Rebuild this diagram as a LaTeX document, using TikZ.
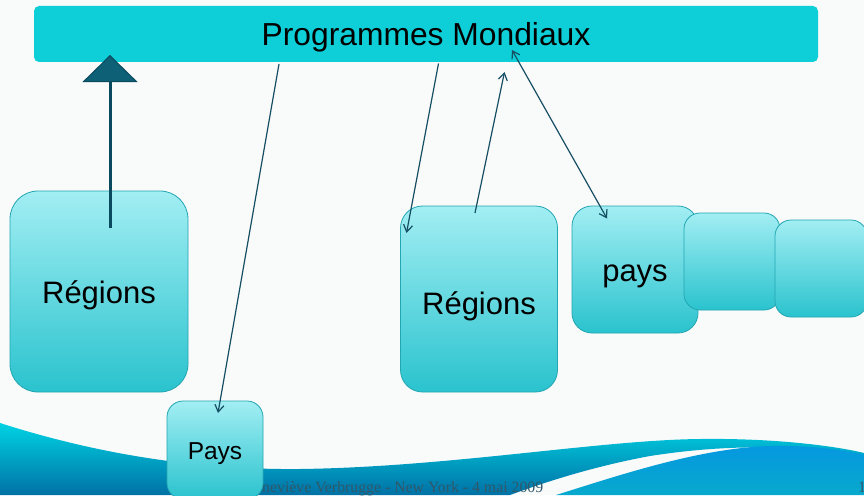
\documentclass[tikz,border=0pt]{standalone}
\usepackage{fontspec}
\setmainfont{Liberation Sans}
\newfontfamily\footerfont{Liberation Serif}
\usetikzlibrary{arrows.meta}
\definecolor{paper}{HTML}{F9FAFA}
\definecolor{banner}{HTML}{0ECFD8}
\definecolor{boxtop}{HTML}{A2EEF3}
\definecolor{boxbottom}{HTML}{2AC3CE}
\definecolor{boxline}{HTML}{22A6B2}
\definecolor{linkline}{HTML}{164F63}
\definecolor{bigline}{HTML}{0A4A5E}
\definecolor{bighead}{HTML}{0E6077}
\definecolor{wavetop}{HTML}{00D3E3}
\definecolor{wavebottom}{HTML}{0071A5}
\definecolor{wavetwotop}{HTML}{0598E0}
\definecolor{wavetwobottom}{HTML}{07A9CC}
\definecolor{footer}{HTML}{30586A}
\tikzset{
  box/.style={draw=boxline,line width=0.8pt,top color=boxtop,bottom color=boxbottom,inner sep=0pt,text depth=0pt},
  big/.style={font=\fontsize{31}{36}\selectfont},
  small/.style={font=\fontsize{24.5}{28}\selectfont},
  link/.style={draw=linkline,line width=1.2pt,-{Straight Barb[length=7pt,width=9pt]}},
  footnote/.style={inner sep=0pt,text=footer,font=\footerfont\fontsize{15.8}{18}\selectfont}
}
\begin{document}
\begin{tikzpicture}[x=1pt,y=-1pt]
  \useasboundingbox (0,0) rectangle (864,495);
  \fill[paper] (0,0) rectangle (864,495);
  \shade[top color=wavetop,bottom color=wavebottom]
    (0,423) .. controls (100,455) and (200,470) .. (300,469)
    .. controls (450,467) and (600,440) .. (700,439)
    .. controls (780,438) and (840,447) .. (864,453) -- (864,456)
    .. controls (790,444) and (720,445) .. (650,456)
    .. controls (590,467) and (540,484) .. (510,495) -- (0,495) -- cycle;
  \shade[top color=wavetwotop,bottom color=wavetwobottom]
    (556,495) .. controls (620,475) and (700,448) .. (770,446)
    .. controls (810,445) and (845,450) .. (864,455) -- (864,495) -- cycle;
  \node[footnote,anchor=base west] (footer) at (243.6,492.7) {Geneviève Verbrugge - New York - 4 mai 2009};
  \begin{scope}
    \clip (0,0) rectangle (864,495);
    \node[footnote,anchor=base west] (page) at (858,492.7) {19};
  \end{scope}
  \node[fill=banner,rounded corners=5pt,minimum width=784pt,minimum height=56pt,inner sep=0pt,text height=24pt,text depth=0pt,font=\fontsize{31.8}{36}\selectfont] (mondiaux) at (426,34) {Programmes Mondiaux};
  \node[box,rounded corners=28pt,minimum width=178pt,minimum height=201pt,text height=23.6pt,big] (regions) at (99,291.5) {Régions};
  \node[box,rounded corners=22pt,minimum width=157pt,minimum height=186pt,text height=30.6pt,big] (regionsb) at (479,299) {Régions};
  \node[box,rounded corners=20pt,minimum width=126pt,minimum height=127pt,text height=23pt,big] (paysb) at (635,269.5) {pays};
  \node[box,rounded corners=16pt,minimum width=96pt,minimum height=97pt] (paysc) at (732,261.5) {};
  \node[box,rounded corners=16pt,minimum width=92pt,minimum height=97pt] (paysd) at (821,268.5) {};
  \node[box,rounded corners=16pt,minimum width=96pt,minimum height=98pt,text height=18.6pt,small] (pays) at (215,450) {Pays};
  \coordinate (up) at (110,228);
  \coordinate (upend) at (110,55);
  \coordinate (m1) at (279,64);
  \coordinate (p1) at (218,413);
  \coordinate (m2) at (438.5,63.5);
  \coordinate (r2) at (406.5,233);
  \coordinate (r3) at (475,213);
  \coordinate (m3) at (504.5,72);
  \coordinate (m4) at (512,50);
  \coordinate (p4) at (607,218.5);
  \draw[bigline,line width=3pt,-{Triangle[length=27pt,width=55pt,fill=bighead,line width=1pt]}] (up) to (upend);
  \begin{scope}[link]
    \draw (m1) to (p1);
    \draw (m2) to (r2);
    \draw (r3) to (m3);
    \draw[{Straight Barb[length=7pt,width=9pt]}-{Straight Barb[length=7pt,width=9pt]}] (m4) to (p4);
  \end{scope}
\end{tikzpicture}
\end{document}
